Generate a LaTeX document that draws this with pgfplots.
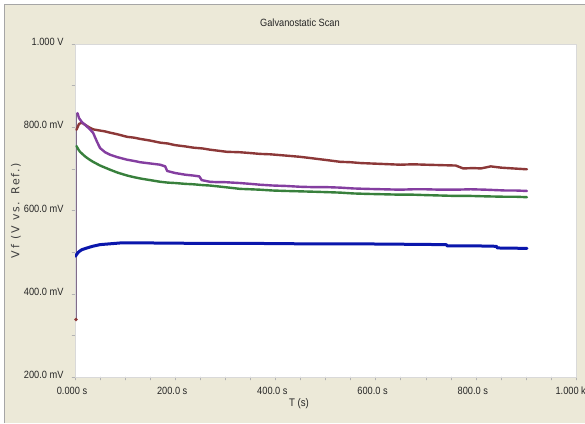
\documentclass[border=0pt]{standalone}
\usepackage{pgfplots}
\pgfplotsset{compat=1.18}
\usepackage{fontspec}
\setmainfont[FakeStretch=0.88]{Liberation Sans}
\newfontfamily\ylabfont[LetterSpace=16]{DejaVu Sans}
\definecolor{bgbeige}{RGB}{236,233,216}
\definecolor{cbrown}{RGB}{140,56,56}
\definecolor{cpurple}{RGB}{132,62,160}
\definecolor{cgreen}{RGB}{56,128,60}
\definecolor{cblue}{RGB}{10,22,172}
\begin{document}
\begin{tikzpicture}
\useasboundingbox (0,0) rectangle (585pt,423pt);
\fill[white] (0,0) rectangle (585pt,423pt);
\fill[bgbeige] (4pt,0) rectangle (585pt,419pt);
\draw[gray!70, line width=0.8pt] (4pt,0) -- (4pt,419pt) -- (585pt,419pt);
\begin{axis}[
  at={(75pt,46pt)}, anchor=south west,
  width=501pt, height=333pt, scale only axis,
  xmin=0, xmax=1000, ymin=200, ymax=1000,
  axis background/.style={fill=white},
  axis line style={draw=gray!30},
  xtick={0,200,400,600,800,1000},
  xticklabels={0.000 s,200.0 s,400.0 s,600.0 s,800.0 s,1.000 ks},
  ytick={200,400,600,800,1000},
  yticklabels={200.0 mV,400.0 mV,600.0 mV,800.0 mV,1.000 V},
  minor x tick num=3, minor y tick num=1,
  tick align=outside, tick pos=left,
  tick style={gray!60, thin},
  major tick length=3pt, minor tick length=3pt,
  ticklabel style={font=\fontsize{10.5}{12}\selectfont, text=black!85},
  xticklabel style={anchor=center, yshift=-10.5pt, xshift=-3pt},
  yticklabel style={anchor=east, xshift=-5pt, yshift=2pt},
  title={Galvanostatic Scan},
  title style={at={(rel axis cs:0.449,1.045)}, anchor=center, font=\fontsize{10.5}{12}\selectfont, text=black!85},
  xlabel={T (s)},
  xlabel style={at={(rel axis cs:0.447,-0.079)}, anchor=center, font=\fontsize{11}{12}\selectfont, text=black!85},
  ylabel={\ylabfont Vf (V vs. Ref.)},
  ylabel style={at={(rel axis cs:-0.118,0.5)}, anchor=center, font=\fontsize{11}{12}\selectfont, text=black!75},
  no markers,
  line join=round, line cap=round,
]
% thin initial step line
\addplot[gray!70!cpurple, line width=0.6pt] coordinates {(3,338) (3,834)};
% initial brown point
\addplot[only marks, mark=*, mark size=1.6pt, cbrown] coordinates {(2,338)};
% brown
\addplot[cbrown, line width=2.4pt] coordinates {
(3,794) (8,808) (14,811) (20,806) (28,800) (36,795) (50,792) (60,790) (70,787) (85,783)
(104,777) (118,775) (130,772) (150,768) (170,763) (185,761) (200,757) (220,754) (236,751)
(255,749) (270,746) (290,743) (303,741) (329,740) (350,738) (369,736) (390,735) (410,733)
(430,731) (449,729) (470,726) (490,723) (510,720) (529,717) (550,716) (570,714) (590,713)
(610,712) (630,711) (649,710) (675,711) (700,710) (730,709) (760,708) (775,701) (795,702)
(810,701) (830,706) (850,703) (875,701) (902,699)};
% purple
\addplot[cpurple, line width=2.4pt] coordinates {
(5,834) (8,822) (14,812) (20,806) (28,797) (36,787) (44,765) (50,750) (60,740)
(70,734) (85,728) (104,722) (118,719) (130,716) (150,713) (170,710) (180,706) (184,695)
(200,690) (220,686) (236,684) (248,682) (253,673) (269,669) (285,668) (300,668) (329,666)
(350,664) (369,662) (395,660) (420,659) (450,657) (480,656) (505,656) (529,655) (555,653)
(580,652) (615,651) (649,650) (675,651) (700,651) (730,650) (760,650) (790,651)
(820,650) (860,648) (880,648) (902,647)};
% green
\addplot[cgreen, line width=2.4pt] coordinates {
(3,755) (6,748) (10,741) (20,730) (28,723) (36,717) (50,708) (60,703) (70,698) (85,691)
(104,684) (118,680) (130,677) (150,673) (170,669) (185,667) (200,666) (220,664) (236,663)
(255,661) (269,660) (285,658) (300,656) (315,654) (329,652) (350,651) (369,650) (395,648)
(420,647) (450,646) (480,645) (505,644) (529,643) (555,641) (580,640) (615,639) (649,638)
(675,638) (700,637) (730,636) (760,635) (790,635) (820,634) (860,633) (880,633) (902,632)};
% blue
\addplot[cblue, line width=3pt] coordinates {
(1,490) (3,494) (6,499) (10,503) (14,506) (24,510) (35,514) (50,518) (70,520)
(90,522) (150,522) (250,521) (350,521) (450,520) (550,520) (650,519) (741,518)
(743,515) (800,515) (841,514) (843,510) (902,509)};
\end{axis}
\end{tikzpicture}
\end{document}
